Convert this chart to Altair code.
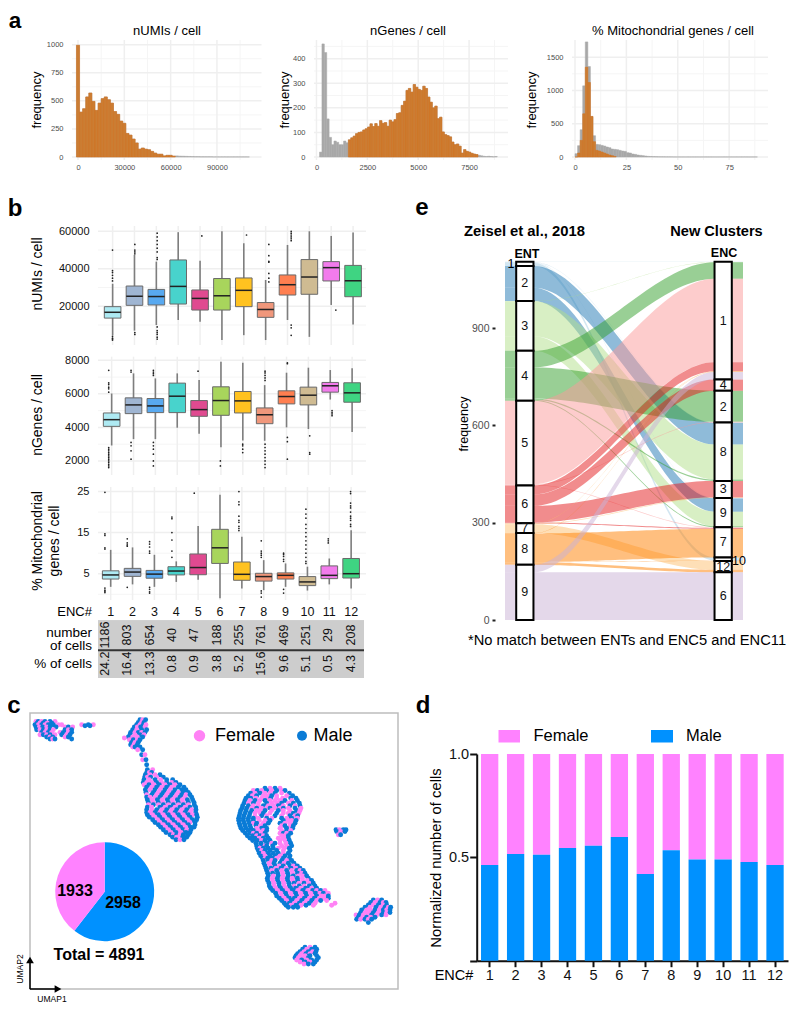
import altair as alt
import pandas as pd

W, H = 784, 995
FONT = "Liberation Sans"
ENC = [str(i) for i in range(1, 13)]

# ---------- panel a: histograms (counts per bin) ----------
numi_bin = 2000
numi_orange = [995,400,430,535,570,495,415,480,520,535,510,480,405,380,320,300,210,195,160,125,70,80,70,65,50,35,25,25,10,15,15,8]
numi_grey = [10,8,7,6,5,4,3,3,2,2,2,2,1,1,1,1,1,1,1,1,1,1,1,1]
genes_bin = 118
genes_start = 150
genes_grey_low = [20,460,425,155,80,50,65,60,50,50,65,58]
genes_orange = [70,78,85,95,100,102,110,115,122,135,124,136,125,148,137,140,125,150,143,152,177,180,210,227,271,279,264,295,284,275,271,288,279,244,223,200,207,156,162,102,91,87,82,61,50,53,44,16,30,23,20,15,12,10]
genes_grey_high = [7,5,3,2,3,2,1,2]
mito_bin = 1.25
mito_grey = [50,170,410,1070,1730,1360,610,320,190,185,175,165,150,140,120,115,110,100,90,85,65,60,45,40,30,25,20,15,10,8,6,5,4,3,3,2,2,2,1,1,1,1,1,1,1,1,1,1,1,1,1,1,1,1,1,1,1,1,1,1,1,1,1,1,1,1,1,1,1,1,1]
mito_orange = [0,60,250,650,1350,1120,610,230,100,90,75,60,45,30,20,8]

# ---------- panel b: box statistics ----------
b_colors = ["#AEEAF3","#9FB5D2","#58A9F0","#48D3CC","#E04A90","#A8D55C","#FFC220","#F0977B","#FF7F50","#CFBB92","#F27BEC","#3FD482"]
umi_q1 = [13700,20500,20700,21200,18000,18000,19800,14100,26000,26400,33500,25100]
umi_med = [16800,25300,25200,30600,24200,25600,28500,18300,31500,35600,40600,33600]
umi_q3 = [19800,30800,29000,44700,28700,34800,35100,22000,36700,44900,43800,41800]
umi_lo = [4500,7000,10000,12700,11800,2000,4600,2000,12700,3700,20700,10300]
umi_hi = [32000,47400,43800,59500,44300,60000,53600,34000,52700,60000,57500,59300]
umi_out = {1:[50000,39000,38000,36500,35000,33500,4000,3000,2500,2000],2:[53000,50000,49000,48000,6000,5000],3:[59000,57000,55000,53000,51000,49000,46000,45000,9000,7000,6000,5000,3500,2500],5:[57500],7:[58000],8:[53000,47000,44000,43500,37500,35000,33000],9:[60000,59000,58000,57000,56000,55000,10000,8500,4500],11:[18000]}
gene_q1 = [4060,4820,4880,4880,4660,4720,4860,4220,5400,5340,6100,5500]
gene_med = [4460,5340,5280,5860,5060,5600,5580,4760,5840,5920,6480,6060]
gene_q3 = [4860,5760,5720,6640,5600,6420,6140,5160,6180,6400,6680,6660]
gene_lo = [2920,3300,3300,3980,3620,2820,3220,3200,4000,3900,5660,3720]
gene_hi = [6020,7220,6920,7220,6820,7920,7860,6520,7260,7560,7420,7520]
gene_out = {1:[7400,6650,6550,6400,6300,6100,2800,2700,2600,2500,2400,2300,2200,2100,2000,1900,1800,1700,1600],2:[7400,7300,3100,2900,2600,2100],3:[7400,7300,7200,7100,3100,2900,2700,2400,2000,1700],5:[7350],6:[2000,1700],7:[3000,2900,2700,2500],8:[7350,7250,7100,6950,6800,3000,2800,2600,2400,2200,2000,1800,1600],9:[7850,7800,3400,3150,2100],10:[3500,2500,2400],11:[5000,4900,4800,4700]}
mito_q1 = [3.7,4.35,3.9,4.7,4.75,7.5,3.4,3.2,3.7,2.1,3.8,3.95]
mito_med = [4.7,5.4,4.9,5.65,6.5,11.3,4.85,4.3,4.6,3.0,4.6,5.0]
mito_q3 = [5.7,6.3,5.8,6.7,9.8,15.8,7.85,5.1,5.2,4.3,6.9,8.7]
mito_lo = [1.8,2.4,1.8,3.0,3.5,-1.0,1.4,1.0,1.8,0.9,2.4,1.4]
mito_hi = [10.8,11.4,9.6,8.0,16.6,24.2,14.0,8.3,7.5,6.7,8.7,15.6]
mito_out = {1:[24.8,14.7,14.3,11.3,11,1.5,1,0.7,0.4],2:[13.5,12.5,12,11.7,1.7],3:[12.8,12.2,11.5,10.5,10,1.7,1.2,0.6,0.3],4:[18.8,18.4,15,13.2,10.5,9],5:[24.6],7:[25,22.5,21.8,19,18,17.5,16.5,16,15.5],8:[13,10.5,10,9.5,9,0.8,0.3,-0.7],9:[10,9.7,9.2,8.5,8,1.2,0.3],10:[20.7,19.5,18.5,17,16,15,14,13,12,11,10,9,8,7.5],11:[13.5,13,12.5],12:[25,24.5,22.2,21.5,21,20,19,18.5,18,17,16.5]}
n_cells = [1186,803,654,40,47,188,255,761,469,251,29,208]
pct_cells = ["24.2","16.4","13.3","0.8","0.9","3.8","5.2","15.6","9.6","5.1","0.5","4.3"]

# ---------- panel c: UMAP, read by eye; y -> x lists ----------
umap_male = {
 90:[420,437],105:[410,430],120:[398,425,440],135:[390,420],150:[400,420],165:[392,412],180:[428],195:[425],210:[438],225:[440],
 240:[442],255:[436,480],270:[432,465,500,518],285:[447,478,510,540],300:[436,465,495,525,545,558],315:[455,485,515,545,570],
 330:[442,472,502,532,562,578],345:[460,490,520,550,583],360:[440,470,500,530,560,588],375:[442,475,505,535,565,590],
 390:[458,488,518,548,578,590],405:[475,505,535,565,585],420:[490,520,550,573],435:[510,530,550,565],450:[528,552],
 248:[440,455],262:[434,452,490],278:[430,470,500,528],292:[440,470,500,535,552],308:[438,460,490,520,550,565],
 322:[440,480,510,540,575],338:[445,475,505,535,565,582],352:[442,480,510,540,570,587],368:[440,465,495,525,555,587],
 382:[448,480,510,540,570,592],398:[465,495,525,555,585],412:[482,512,542,572,582],428:[498,528,558,570],442:[518,548,560],
 98:[415,432],112:[403,422],128:[392,415,435],142:[385,428],158:[395,415],172:[405,420]}
umap_female = {
 90:[428],105:[420,438],120:[410],135:[405,432],145:[373],150:[388,412],165:[402],180:[413],195:[435],210:[428],
 240:[458],255:[450,465],270:[448,482],285:[432,462,495,525],300:[450,480,510],315:[440,470,500,530,558],
 330:[457,487,517,547],345:[445,475,505,535,565],360:[455,485,515,545,575],375:[458,490,520,550,578],
 390:[473,503,533,563],405:[490,520,550],420:[505,535,560],435:[520,540],450:[540],
 248:[448],262:[442,470],278:[440,455,485,515],292:[455,485,515],308:[475,505,535],322:[450,465,495,525,555],
 338:[460,490,520,550],352:[455,495,525,555],368:[450,480,510,540,570],382:[465,495,525,555],398:[480,510,540,570],
 412:[497,527,557],428:[513,543],442:[530],
 98:[425],112:[412,435],128:[405,425],142:[398,412],158:[405],172:[398]}
umap2_male = {
 295:[795,825],310:[752,780,825,868],325:[738,752,812,872,888],340:[732,760,800,845,880,898],355:[726,740,770,810,850,885],
 370:[720,735,750,790,830,880],385:[716,730,745,760,800,845,875],400:[718,733,748,770,805,840,885],415:[723,738,753,785,800,860,878],
 430:[736,750,770,795,850,872],445:[750,765,790,805,865],460:[768,783,800,825,872],475:[772,790,805,820,868],490:[778,805,820,835,865],
 505:[788,803,818,850,868],520:[792,822,840,865,882],535:[798,813,843,873,900],550:[803,818,833,863,893,915],565:[802,832,862,892,925],
 580:[807,837,867,882,912,940],595:[812,842,872,887,917,950],610:[827,857,887,917,947,970],625:[838,868,883,913,943,985],640:[853,868,898,928],652:[865,880,893],
 302:[772,800,830,855],318:[745,770,815,878],332:[735,765,795,855,892],348:[728,745,790,835,870,900],362:[722,738,755,795,835,890],
 378:[718,732,748,785,825,870,893],392:[716,730,745,760,810,850,888],408:[720,735,750,768,795,855,880],422:[728,745,760,800,860],
 438:[742,758,780,800,865],452:[758,772,795,810,868],468:[770,785,800,818,875],482:[775,795,810,830,870],498:[782,810,825,855,870],
 512:[790,805,825,845,875],528:[795,825,850,870,892],542:[800,830,860,890,910],558:[805,835,865,880,920],572:[803,833,863,893,935],
 588:[808,838,868,898,928,945],602:[818,848,878,908,938,962],618:[830,860,890,920,950,985],632:[845,875,905,935,962],646:[858,888,918]}
umap2_female = {
 295:[810,840],310:[765,795,810,845],325:[768,785,800,830,848],340:[745,775,815,830,865],355:[755,785,800,825,840,865,903],
 370:[765,780,810,850,865,897],385:[775,815,860,892],400:[760,790,855,870],415:[770,840],430:[760,785,840,860],445:[778,835,850],
 460:[815,840,858],475:[780,835,853],490:[790,850],505:[795,830],520:[807,852],535:[828,858,888],550:[848,878,905],565:[817,847,877,907],
 580:[822,852,897,927],595:[827,857,902,935],610:[842,872,902,932,960,985],625:[853,898,928,958,970],640:[883,913,945,1005],
 302:[785,815,845,760],318:[757,790,800,830,860],332:[750,780,810,825,840,875],348:[760,775,805,820,850,885],362:[770,780,815,850,870,900],
 378:[765,800,845,885],392:[778,795,865,875],408:[782,845,870],422:[775,790,845,872],438:[770,790,845,855],452:[785,840,855],
 468:[795,845,860],482:[785,850],498:[795,840],512:[815,860],528:[810,838,880],542:[815,845,875,900],558:[820,850,895,908],
 572:[818,848,878,908,922],588:[823,853,883,913],602:[833,863,893,923,950,975],618:[845,875,905,935,965,975],632:[860,890,920,950,980],646:[873,903,940,995]}
umap3_male = {
 95:[115,135,150],105:[105,125,145,160,265],120:[110,130,150,195,215],135:[130,150,185,210],148:[150,165,215],108:[255,270],
 100:[112,130,155],112:[108,128,150,168,205],128:[125,145,190,215],142:[140,158,205],
 425:[1010,1035],435:[1022],420:[1008,1030,1038],
 630:[1120,1145],645:[1105,1135,1160],660:[1085,1125,1150,1170],675:[1078,1115,1145],688:[1070,1095,1115],698:[1105],
 638:[1112,1140,1158],652:[1095,1128,1155,1172],668:[1082,1120,1150,1170],682:[1075,1100,1125],
 772:[915,945],785:[900,925,948],797:[888,930,950],810:[905,935,950],822:[925,940],
 778:[908,935,950],791:[893,918,945],803:[885,925,955],816:[915,945]}
umap3_female = {
 95:[125,108,165],105:[115,135,175,185,245,280],120:[120,140,160,205],135:[120,140,165,200],148:[158],
 100:[120,142],112:[118,140,195,218],128:[135,155,205,180],142:[150,195],
 425:[1022],435:[1015],420:[1018],
 630:[1133],645:[1120,1150],660:[1100,1112,1138,1160],675:[1068,1090,1105,1130,1158],688:[1082,1105],
 638:[1125,1150],652:[1110,1142,1165],668:[1095,1108,1135,1160],682:[1088,1112],
 772:[930],785:[912,938],797:[900,915],810:[890,920],822:[912],
 778:[920],791:[905,930],803:[895,910],816:[900,930]}
pie_female, pie_male = 1933, 2958

# ---------- panel d ----------
male_fraction = [0.463,0.516,0.513,0.545,0.556,0.598,0.419,0.534,0.489,0.490,0.477,0.463]

# ---------- panel e: flows ENT -> ENC ----------
ent_order = [1,2,3,4,5,6,7,8,9]
enc_order = [1,4,2,8,3,9,7,10,12,6]
ent_colors = ["#A6CEE3","#1F78B4","#B2DF8A","#33A02C","#FB9A99","#E31A1C","#FDBF6F","#FF7F00","#CAB2D6"]
flows = [(1,1,1),(1,8,1),(1,9,1),(1,10,10),
 (2,8,67),(2,9,41),(3,1,1),(3,8,108),(3,9,45),
 (4,1,51),(4,2,96),(4,8,4),(4,9,3),
 (5,1,257),(5,2,2),(5,7,2),
 (6,1,28),(6,4,35),(6,3,51),(6,7,3),
 (7,1,1),(7,3,2),(7,12,27),
 (8,1,1),(8,7,88),(8,10,1),(8,12,8),
 (9,1,23),(9,6,147)]

# ---------- helpers ----------
def PX(v): return v - 8
def sx(dom, a, b, **k): return alt.Scale(domain=dom, range=[PX(a), PX(b)], **k)
def sy(dom, bottom, top, **k): return alt.Scale(domain=dom, range=[PX(bottom), PX(top)], nice=False, zero=False, **k)
one = pd.DataFrame({"a": [0]})
layers = []

def label(t, x, y, size=12, weight="normal", color="#000000", align="center", angle=0, line=None, font=FONT):
    kw = dict(lineHeight=line) if line else {}
    layers.append(alt.Chart(pd.DataFrame({"t": [t]})).mark_text(
        fontSize=size, fontWeight=weight, color=color, align=align, baseline="middle",
        angle=angle, font=font, lineBreak="\n", **kw).encode(x=alt.value(PX(x)), y=alt.value(PX(y)), text="t:N"))

def hrule(x1, x2, y, color="black", w=1):
    layers.append(alt.Chart(one).mark_rule(color=color, strokeWidth=w).encode(x=alt.value(PX(x1)), x2=alt.value(PX(x2)), y=alt.value(PX(y))))
def vrule(x, y1, y2, color="black", w=1):
    layers.append(alt.Chart(one).mark_rule(color=color, strokeWidth=w).encode(x=alt.value(PX(x)), y=alt.value(PX(y1)), y2=alt.value(PX(y2))))

def vgrid(values, scale, typ, top, bottom, color, w):
    layers.append(alt.Chart(pd.DataFrame({"v": values})).mark_rule(color=color, strokeWidth=w).encode(
        x=alt.X(f"v:{typ}", scale=scale, axis=None, sort=None), y=alt.value(PX(top)), y2=alt.value(PX(bottom))))
def hgrid(values, scale, left, right, color, w):
    layers.append(alt.Chart(pd.DataFrame({"v": values})).mark_rule(color=color, strokeWidth=w).encode(
        y=alt.Y("v:Q", scale=scale, axis=None), x=alt.value(PX(left)), x2=alt.value(PX(right))))

def left_axis(x, gap=0, **k):
    base = dict(orient="left", offset=gap - PX(x), domain=False, ticks=False, grid=False, title=None, labelFont=FONT, labelColor="#4D4D4D")
    base.update(k); return alt.Axis(**base)
def bottom_axis(y, gap=0, **k):
    base = dict(orient="bottom", offset=PX(y) + gap - H, domain=False, ticks=False, grid=False, title=None, labelFont=FONT, labelColor="#4D4D4D")
    base.update(k); return alt.Axis(**base)

GRID = "#EFEFEF"
MINOR = "#F5F5F5"

# ---------- panel a ----------
def hist_panel(xdom, xr, ydom, yr, xmaj, xmin, ymaj, ymin, series):
    xs, ys = sx(xdom, *xr), sy(ydom, *yr)
    vgrid(xmin, xs, "Q", yr[1], yr[0], MINOR, 1)
    hgrid(ymin, ys, xr[0], xr[1], MINOR, 1)
    vgrid(xmaj, xs, "Q", yr[1], yr[0], GRID, 1.5)
    hgrid(ymaj, ys, xr[0], xr[1], GRID, 1.5)
    first = True
    for rows, fill, stroke in series:
        df = pd.DataFrame(rows, columns=["s", "e", "c"]); df["z"] = 0
        xa = bottom_axis(yr[0], values=xmaj, labelFontSize=7.5, labelPadding=3, format="d") if first else None
        ya = left_axis(xr[0], gap=7, values=ymaj, labelFontSize=7.5, format="d") if first else None
        layers.append(alt.Chart(df).mark_rect(color=fill, stroke=stroke, strokeWidth=0.5).encode(
            x=alt.X("s:Q", scale=xs, axis=xa), x2="e:Q", y=alt.Y("c:Q", scale=ys, axis=ya), y2="z:Q"))
        first = False

def bins(vals, start, width):
    return [(start + i * width, start + (i + 1) * width, v) for i, v in enumerate(vals)]

ORANGE, OEDGE, GREY = "#CB7D33", "#D4701C", "#A8A8A8"
hist_panel([-3890, 118860], (72, 261.5), [-26.7, 1042], (160, 40),
           [0,30000,60000,90000], [15000,45000,75000,105000], [0,250,500,750,1000], [125,375,625,875],
           [(bins(numi_orange + numi_grey, -numi_bin/2, numi_bin), GREY, GREY), (bins(numi_orange, -numi_bin/2, numi_bin), ORANGE, OEDGE)])
gl = len(genes_grey_low)
hist_panel([-122, 9413], (314, 508), [-12.2, 476], (160, 40),
           [0,2500,5000,7500], [1250,3750,6250,8750], [0,100,200,300,400], [50,150,250,350,450],
           [(bins(genes_grey_low + genes_orange + genes_grey_high, genes_start, genes_bin), GREY, GREY),
            (bins(genes_orange, genes_start + gl*genes_bin, genes_bin), ORANGE, OEDGE)])
hist_panel([-1.46, 93.9], (572, 768), [-45, 1759], (160, 40),
           [0,25,50,75], [12.5,37.5,62.5,87.5], [0,500,1000,1500], [250,750,1250],
           [(bins(mito_grey, 0, mito_bin), GREY, GREY), (bins(mito_orange, 0, mito_bin), ORANGE, OEDGE)])
label("nUMIs / cell", 167, 31, 13)
label("nGenes / cell", 408, 31, 13)
label("% Mitochondrial genes / cell", 673, 31, 13)
label("frequency", 37, 100, 13, angle=270)
label("frequency", 285, 100, 13, angle=270)
label("frequency", 532, 100, 13, angle=270)

# ---------- panel b ----------
def box_panel(q1, med, q3, lo, hi, out, ydom, yb, yt, ymaj, ymin, align, xlabels=False, fmt="d"):
    base = pd.DataFrame({"e": ENC, "q1": q1, "med": med, "q3": q3, "lo": lo, "hi": hi})
    xs = sx(ENC, 98, 366, paddingInner=0, paddingOuter=0.13, align=align)
    ys = sy(ydom, yb, yt)
    xe = alt.X("e:N", scale=xs, sort=ENC, axis=None)
    hgrid(ymin, ys, 98, 366, MINOR, 1)
    hgrid(ymaj, ys, 98, 366, GRID, 1.5)
    vgrid(ENC, xs, "N", yt, yb, GRID, 1.5)
    xa = bottom_axis(yb, values=ENC, labels=xlabels, labelFontSize=12.5,
                     labelColor="#111111", labelAngle=0, labelPadding=5) if xlabels else None
    layers.append(alt.Chart(base).mark_rule(color="#7E7E7E", strokeWidth=1.6).encode(
        x=alt.X("e:N", scale=xs, sort=ENC, axis=xa),
        y=alt.Y("lo:Q", scale=ys, axis=left_axis(98, gap=7, values=ymaj,
                                                 labelFontSize=11, labelColor="#111111", format=fmt)),
        y2="hi:Q"))
    o = pd.DataFrame([(str(k), v) for k, vs in out.items() for v in vs], columns=["e", "v"])
    layers.append(alt.Chart(o).mark_circle(size=3, color="#222222", opacity=1).encode(x=xe, y=alt.Y("v:Q", scale=ys, axis=None)))
    layers.append(alt.Chart(base).mark_bar(width=alt.RelativeBandSize(band=0.76), stroke="#6A6A6A", strokeWidth=1, opacity=1).encode(
        x=xe, y=alt.Y("q1:Q", scale=ys, axis=None, stack=None), y2="q3:Q",
        color=alt.Color("e:N", scale=alt.Scale(domain=ENC, range=b_colors), legend=None)))
    layers.append(alt.Chart(base).mark_tick(size=16.5, thickness=1.5, color="#222222", opacity=1).encode(
        x=xe, y=alt.Y("med:Q", scale=ys, axis=None)))

box_panel(umi_q1, umi_med, umi_q3, umi_lo, umi_hi, umi_out, [-640, 62800], 345, 226, [20000,40000,60000], [10000,30000,50000], 0.65)
box_panel(gene_q1, gene_med, gene_q3, gene_lo, gene_hi, gene_out, [1160, 8215], 475, 356.7, [2000,4000,6000,8000], [3000,5000,7000], 0.48)
box_panel(mito_q1, mito_med, mito_q3, mito_lo, mito_hi, mito_out, [-1.4, 26.1], 600, 487, [5,15,25], [0,10,20], 0.31, xlabels=True)
label("nUMIs / cell", 38, 274, 14, angle=270)
label("nGenes / cell", 38, 415, 14, angle=270)
label("% Mitochondrial\ngenes / cell", 38, 541, 14, angle=270, line=17)
label("ENC#", 92, 611.5, 13, align="right")

# table below the boxes
rows = ["number of cells", "% of cells"]
tab = pd.DataFrame({"e": ENC * 2, "r": [rows[0]] * 12 + [rows[1]] * 12,
                    "t": [str(v) for v in n_cells] + pct_cells})
ty = alt.Y("r:N", scale=alt.Scale(domain=rows, range=[PX(620.7), PX(678)], paddingInner=0, paddingOuter=0), axis=None, sort=rows)
layers.append(alt.Chart(tab).mark_rect(color="#CDCDCD").encode(x=alt.value(PX(98)), x2=alt.value(PX(364)), y=ty))
hrule(98, 364, 650.3, "#333333", 2)
layers.append(alt.Chart(tab).mark_text(angle=270, fontSize=12.5, font=FONT, color="#111111", baseline="middle").encode(
    x=alt.X("e:N", scale=sx(ENC, 98, 366, paddingInner=0, paddingOuter=0.13, align=0.31), sort=ENC, axis=None), y=ty, text="t:N"))
label("number\nof cells", 92, 633, 13.5, align="right", line=13)
label("% of cells", 92, 664, 13.5, align="right")

# ---------- panel e ----------
EX = sx([0.9, 2.1], 505, 743, nice=False, zero=False)
EY = sy([0, 1215], 620, 226)
hw = 0.0435
ent_tot = {e: sum(f[2] for f in flows if f[0] == e) for e in ent_order}
enc_tot = {e: sum(f[2] for f in flows if f[1] == e) for e in enc_order}
total = sum(f[2] for f in flows)
left_pos, right_pos = {}, {}
cur = total
ent_rows = []
for e in ent_order:
    ent_rows.append((str(e), cur - ent_tot[e], cur))
    for fl in sorted([f for f in flows if f[0] == e], key=lambda f: enc_order.index(f[1])):
        left_pos[fl] = cur; cur -= fl[2]
cur = total
enc_rows = []
for e in enc_order:
    enc_rows.append((str(e), cur - enc_tot[e], cur))
    for fl in sorted([f for f in flows if f[1] == e], key=lambda f: f[0]):
        right_pos[fl] = cur; cur -= fl[2]
rib = []
STEPS = 40
for idx, fl in enumerate(flows):
    pts = [(0.9, 0.0), (1 + hw, 0.0)]
    for k in range(1, STEPS):
        t = k / STEPS
        pts.append((1 + hw + t * (1 - 2 * hw), t * t * (3 - 2 * t)))
    pts += [(2 - hw, 1.0), (2.1, 1.0)]
    for x, s in pts:
        top = left_pos[fl] * (1 - s) + right_pos[fl] * s
        rib.append({"f": idx, "ent": str(fl[0]), "x": x, "t": top, "b": top - fl[2]})
ribdf = pd.DataFrame(rib)
ent_dom = [str(e) for e in ent_order]
layers.append(alt.Chart(ribdf).mark_area(opacity=0.5).encode(
    x=alt.X("x:Q", scale=EX, axis=None),
    y=alt.Y("t:Q", scale=EY, stack=None,
            axis=left_axis(505, gap=10, values=[0,300,600,900], ticks=True, tickSize=3, tickWidth=2, tickColor="#222222",
                           labelFontSize=10.5, labelPadding=3)),
    y2="b:Q",
    color=alt.Color("ent:N", scale=alt.Scale(domain=ent_dom, range=ent_colors), legend=None),
    detail="f:N"))
for rows_, cx in ((ent_rows, 1.0), (enc_rows, 2.0)):
    d = pd.DataFrame(rows_, columns=["n", "b", "t"])
    d["x1"] = cx - hw; d["x2"] = cx + hw; d["xm"] = cx; d["ym"] = (d.b + d.t) / 2
    layers.append(alt.Chart(d).mark_rect(fill="white", stroke="black", strokeWidth=2).encode(
        x=alt.X("x1:Q", scale=EX, axis=None), x2="x2:Q", y=alt.Y("t:Q", scale=EY, axis=None), y2="b:Q"))
    d2 = d[~d.n.isin(["1", "10"]) | (d.xm == 2.0) & (d.n == "1")]
    layers.append(alt.Chart(d2).mark_text(fontSize=12.5, font=FONT, baseline="middle", color="#111111").encode(
        x=alt.X("xm:Q", scale=EX, axis=None), y=alt.Y("ym:Q", scale=EY, axis=None), text="n:N"))
label("1", 511, 264, 12.5)
label("10", 739, 561, 12.5)
label("Zeisel et al., 2018", 524.5, 232, 14.8, "bold")
label("New Clusters", 716.5, 232, 14.6, "bold")
label("ENT", 527, 254, 12.5, "bold")
label("ENC", 724, 253, 12.5, "bold")
label("frequency", 464, 424, 12.5, angle=270)
label("*No match between ENTs and ENC5 and ENC11", 627, 641, 14.7)

# ---------- panel c ----------
def flat(sex, *ds):
    return [(x, y, sex) for d in ds for y, xs in d.items() for x in xs]
UX = sx([90, 1197], 30, 399, nice=False, zero=False)
UY = sy([897, 70], 989, 713)
layers.append(alt.Chart(one).mark_rect(fill="white", stroke="#BDBDBD", strokeWidth=1.5).encode(
    x=alt.value(PX(30)), x2=alt.value(PX(398)), y=alt.value(PX(713)), y2=alt.value(PX(989))))
cells = pd.DataFrame(flat("Female", umap_female, umap2_female, umap3_female) + flat("Male", umap_male, umap2_male, umap3_male),
                     columns=["x", "y", "sex"]).sort_values(["y", "x"]).reset_index(drop=True)
layers.append(alt.Chart(cells).mark_circle(size=24, opacity=1).encode(
    x=alt.X("x:Q", scale=UX, axis=None), y=alt.Y("y:Q", scale=UY, axis=None),
    color=alt.Color("sex:N", scale=alt.Scale(domain=["Female", "Male"], range=["#FF82F5", "#0A7BD6"]), legend=None)))
pie = pd.DataFrame({"g": ["Male", "Female"], "v": [pie_male, pie_female], "o": [1, 2]})
layers.append(alt.Chart(pie).mark_arc(outerRadius=49.5).encode(
    theta=alt.Theta("v:Q", stack=True), order=alt.Order("o:Q"),
    color=alt.Color("g:N", scale=alt.Scale(domain=["Male", "Female"], range=["#0091FF", "#FF82FF"]), legend=None),
    x=alt.value(PX(104.7)), y=alt.value(PX(891.7))))
label(str(pie_male), 123, 902.5, 16, "bold")
label(str(pie_female), 75, 890.5, 16, "bold")
label("Total = 4891", 99, 955, 16, "bold")
for cx, col, sz in ((199.5, "#FF82F5", 130), (302, "#0A7BD6", 100)):
    layers.append(alt.Chart(one).mark_circle(size=sz, color=col, opacity=1).encode(x=alt.value(PX(cx)), y=alt.value(PX(735.7))))
label("Female", 215, 735.5, 18, align="left")
label("Male", 313.5, 735.5, 18, align="left")
vrule(30, 989, 960, "black", 1.5)
hrule(30, 58, 989, "black", 1.5)
layers.append(alt.Chart(one).mark_point(shape="triangle-up", filled=True, size=60, color="black", opacity=1).encode(x=alt.value(PX(30)), y=alt.value(PX(960))))
layers.append(alt.Chart(one).mark_point(shape="triangle-right", filled=True, size=60, color="black", opacity=1).encode(x=alt.value(PX(58)), y=alt.value(PX(989))))
label("UMAP2", 20, 969, 8.5, angle=270)
label("UMAP1", 52, 999, 8.5)

# ---------- panel d ----------
DX = sx(ENC, 476.7, 788, paddingInner=0, paddingOuter=0)
DY = sy([0, 1], 960.7, 754)
dd = pd.DataFrame({"e": ENC, "m": male_fraction, "z": [0] * 12, "u": [1] * 12})
layers.append(alt.Chart(dd).mark_bar(width=alt.RelativeBandSize(band=0.667), color="#FF82FF").encode(
    x=alt.X("e:N", scale=DX, sort=ENC, axis=None), y=alt.Y("m:Q", scale=DY, axis=None, stack=None), y2="u:Q"))
layers.append(alt.Chart(dd).mark_bar(width=alt.RelativeBandSize(band=0.667), color="#0091FF").encode(
    x=alt.X("e:N", scale=DX, sort=ENC,
            axis=alt.Axis(orient="bottom", offset=PX(960.7) - H, title=None, labelAngle=0, labelFont=FONT, labelFontSize=14.5,
                          labelColor="#111111", domainColor="#111111", domainWidth=2, tickColor="#111111", tickWidth=2, tickSize=6, labelPadding=2)),
    y=alt.Y("z:Q", scale=DY, stack=None,
            axis=alt.Axis(orient="left", offset=-PX(476.7), title=None, values=[0, 0.5, 1], grid=False, labelFont=FONT, labelFontSize=14.5,
                          labelColor="#111111", domainColor="#111111", domainWidth=2, tickColor="#111111", tickWidth=2, tickSize=7, labelPadding=1,
                          labelExpr="datum.value == 0 ? '' : format(datum.value, '.1f')")),
    y2="m:Q"))
label("Normalized  number of cells", 437, 858, 14.8, angle=270)
label("ENC#", 454, 976, 14.5)
for a, b, col in ((498.5, 520, "#FF82FF"), (651, 673, "#0091FF")):
    layers.append(alt.Chart(one).mark_rect(color=col).encode(x=alt.value(PX(a)), x2=alt.value(PX(b)), y=alt.value(PX(730)), y2=alt.value(PX(742.5))))
label("Female", 533.5, 736, 16.5, align="left")
label("Male", 686, 736, 16.5, align="left")

# ---------- panel letters ----------
label("a", 15, 20.5, 22.5, "bold")
label("b", 15, 209, 24, "bold")
label("c", 14, 706, 24, "bold")
label("d", 423, 706, 24, "bold")
label("e", 422, 208, 24, "bold")

chart = alt.layer(*layers).resolve_scale(x="independent", y="independent", color="independent", theta="independent").properties(
    width=W, height=H, padding=0, autosize=alt.AutoSizeParams(type="none"), background="white"
).configure_view(stroke=None)
chart.save("out.html", embed_options={"renderer": "svg", "actions": False})
